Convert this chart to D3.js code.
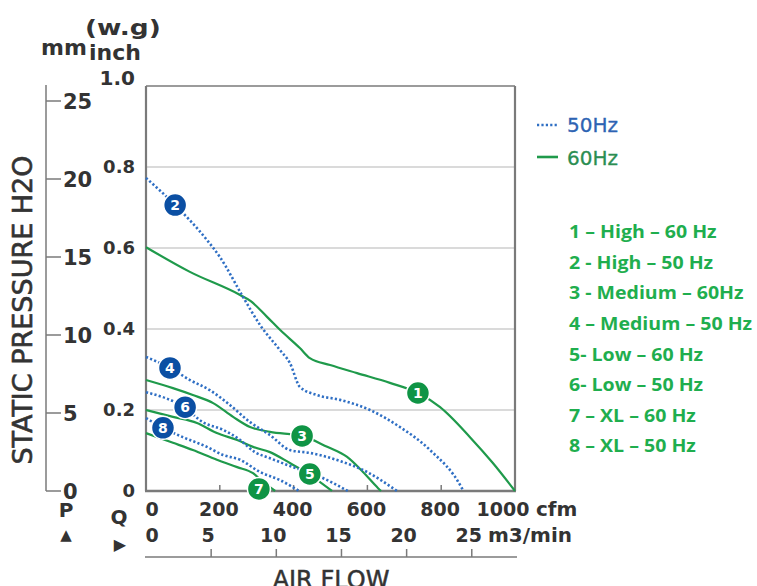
<!DOCTYPE html>
<html>
<head>
<meta charset="utf-8">
<script src="https://cdn.jsdelivr.net/npm/d3@7"></script>
<style>
  body { margin: 0; background: #fff; }
  svg { display: block; }
</style>
</head>
<body>
<svg id="chart"></svg>
<script>
// curves: [cfm, inch w.g]
const high60 = [[0,0.602],[119,0.541],[255,0.484],[282,0.470],[328,0.430],[363,0.398],[417,0.353],[444,0.328],[499,0.311],[572,0.291],[661,0.267],[737,0.242],[797,0.207],[878,0.133],[940,0.069],[1000,0]];
const high50 = [[0,0.773],[79,0.706],[165,0.620],[200,0.578],[263,0.479],[309,0.41],[363,0.348],[390,0.316],[417,0.257],[463,0.237],[526,0.225],[607,0.2],[688,0.158],[770,0.101],[856,0.007],[860,0]];
const med60 = [[0,0.274],[73,0.254],[127,0.237],[182,0.217],[236,0.183],[282,0.158],[336,0.146],[423,0.136],[491,0.109],[545,0.084],[588,0.047],[629,0.007],[637,0]];
const med50 = [[0,0.331],[65,0.304],[119,0.274],[173,0.249],[228,0.212],[282,0.170],[336,0.138],[390,0.101],[444,0.094],[526,0.074],[599,0.047],[669,0.007],[680,0]];
const low60 = [[0,0.2],[73,0.183],[138,0.168],[192,0.143],[247,0.126],[290,0.109],[336,0.096],[390,0.069],[444,0.040],[504,0]];
const low50 = [[0,0.244],[106,0.205],[154,0.170],[209,0.151],[255,0.126],[295,0.096],[336,0.081],[398,0.059],[472,0.035],[547,0]];
const xl60 = [[0,0.143],[73,0.119],[127,0.101],[192,0.077],[247,0.059],[290,0.044],[314,0.025],[350,0]];
const xl50 = [[0,0.180],[46,0.156],[100,0.133],[165,0.109],[209,0.089],[255,0.077],[309,0.047],[363,0.027],[415,0]];

const curves = [high60, high50, med60, med50, low60, low50, xl60, xl50];
const curveHz = [60, 50, 60, 50, 60, 50, 60, 50];

// numbered badges on the curves
const markerNo = [1, 2, 3, 4, 5, 6, 7, 8];
const markerCfm = [737, 79, 423, 65, 444, 106, 306, 46];
const markerInch = [0.242, 0.706, 0.136, 0.304, 0.042, 0.207, 0.005, 0.156];

const cfmTicks = [0, 200, 400, 600, 800, 1000];
const m3Ticks = [0, 5, 10, 15, 20, 25];
const inchTicks = [0, 0.2, 0.4, 0.6, 0.8, 1.0];
const mmTicks = [0, 5, 10, 15, 20, 25];
const listLabels = ["1 – High – 60 Hz", "2 - High – 50 Hz", "3 - Medium – 60Hz", "4 – Medium – 50 Hz",
  "5- Low – 60 Hz", "6- Low – 50 Hz", "7 – XL – 60 Hz", "8 – XL – 50 Hz"];

const W = 757, H = 586;
const BLUE = "#2f6fc4", BLUE_DARK = "#0b4fa3", GREEN = "#1f9a4b", GREEN_DARK = "#0f9445", LIST_GREEN = "#1fae4e";
const AXIS = "#7a7a7a", TEXT = "#333";
const FONT = "DejaVu Sans, sans-serif";

const svg = d3.select("#chart").attr("width", W).attr("height", H);

const x = d3.scaleLinear().domain([0, 1000]).range([146, 515]);
const y = d3.scaleLinear().domain([0, 1]).range([491, 86]);
const mm = d3.scaleLinear().domain([0, 25]).range([491, 101]);
const m3 = d3.scaleLinear().domain([0, 1000 / 35.315]).range([146, 515]);

// grid lines
svg.append("g").selectAll("line")
  .data([0.2, 0.4, 0.6, 0.8])
  .enter().append("line")
  .attr("x1", x(0)).attr("x2", x(1000))
  .attr("y1", d => y(d)).attr("y2", d => y(d))
  .attr("stroke", "#dadada").attr("stroke-width", 2);

// plot frame
svg.append("line").attr("x1", x(0)).attr("x2", x(1000)).attr("y1", y(1)).attr("y2", y(1))
  .attr("stroke", AXIS).attr("stroke-width", 1.5);
svg.append("line").attr("x1", x(0)).attr("x2", x(0)).attr("y1", y(1)).attr("y2", y(0))
  .attr("stroke", AXIS).attr("stroke-width", 2.2);
svg.append("line").attr("x1", x(1000)).attr("x2", x(1000)).attr("y1", y(1)).attr("y2", y(0))
  .attr("stroke", AXIS).attr("stroke-width", 2.2);
svg.append("line").attr("x1", x(0) - 1).attr("x2", x(1000) + 1).attr("y1", y(0)).attr("y2", y(0))
  .attr("stroke", AXIS).attr("stroke-width", 2.5);
svg.append("g").selectAll("line")
  .data([200, 400, 600, 800])
  .enter().append("line")
  .attr("x1", d => x(d)).attr("x2", d => x(d))
  .attr("y1", y(0)).attr("y2", y(0) - 6)
  .attr("stroke", AXIS).attr("stroke-width", 1.5);

// curves
const line = d3.line().x(d => x(d[0])).y(d => y(d[1])).curve(d3.curveMonotoneX);
svg.append("g").selectAll("path")
  .data(curves)
  .enter().append("path")
  .attr("d", line)
  .attr("fill", "none")
  .attr("stroke", (d, i) => curveHz[i] === 50 ? BLUE : GREEN)
  .attr("stroke-width", (d, i) => curveHz[i] === 50 ? 2.6 : 2.2)
  .attr("stroke-dasharray", (d, i) => curveHz[i] === 50 ? "2.2 2.2" : null);

// badges
const badge = svg.append("g").selectAll("g")
  .data(markerNo)
  .enter().append("g")
  .attr("transform", (d, i) => "translate(" + x(markerCfm[i]) + "," + y(markerInch[i]) + ")");
badge.append("circle")
  .attr("r", 11.5)
  .attr("fill", (d, i) => curveHz[i] === 50 ? BLUE_DARK : GREEN_DARK)
  .attr("stroke", "#fff").attr("stroke-width", 1.5);
badge.append("text")
  .attr("text-anchor", "middle").attr("dy", "0.36em")
  .attr("font-family", FONT).attr("font-weight", "bold").attr("font-size", 14)
  .attr("fill", "#fff")
  .text(d => d);

// left mm axis
svg.append("line").attr("x1", 46).attr("x2", 46).attr("y1", 85).attr("y2", mm(0))
  .attr("stroke", AXIS).attr("stroke-width", 1.5);
svg.append("g").selectAll("line")
  .data(mmTicks)
  .enter().append("line")
  .attr("x1", 46).attr("x2", 61)
  .attr("y1", d => mm(d)).attr("y2", d => mm(d))
  .attr("stroke", AXIS).attr("stroke-width", 1.5);
svg.append("g").selectAll("text")
  .data(mmTicks)
  .enter().append("text")
  .attr("x", 63).attr("y", d => mm(d)).attr("dy", "0.36em")
  .attr("font-family", FONT).attr("font-weight", "bold").attr("font-size", 21)
  .attr("fill", TEXT)
  .text(d => d);

// inch labels
svg.append("g").selectAll("text")
  .data(inchTicks)
  .enter().append("text")
  .attr("x", 135).attr("y", d => d === 1 ? y(d) - 8 : y(d)).attr("dy", "0.36em")
  .attr("text-anchor", "end")
  .attr("font-family", FONT).attr("font-weight", "bold").attr("font-size", d => d === 1 ? 20 : 18)
  .attr("fill", TEXT)
  .text(d => d === 0 ? "0" : d.toFixed(1));

// unit header
const head = svg.append("g").attr("font-family", FONT).attr("font-weight", "bold").attr("fill", TEXT).attr("font-size", 22);
head.append("text").attr("transform", "translate(85,35) scale(1.2,1)").text("(w.g)");
head.append("text").attr("x", 41).attr("y", 55).text("mm");
head.append("text").attr("x", 89).attr("y", 60).text("inch");

// y title
svg.append("text")
  .attr("transform", "translate(32,310) rotate(-90)")
  .attr("text-anchor", "middle")
  .attr("font-family", FONT).attr("font-size", 27)
  .attr("fill", TEXT).attr("stroke", TEXT).attr("stroke-width", 0.6)
  .text("STATIC PRESSURE H2O");

// cfm row
svg.append("g").selectAll("text")
  .data(cfmTicks)
  .enter().append("text")
  .attr("x", d => d === 0 ? x(d) + 6 : d === 1000 ? x(d) - 12 : x(d) - 1)
  .attr("y", 516)
  .attr("text-anchor", "middle")
  .attr("font-family", FONT).attr("font-weight", "bold").attr("font-size", 19)
  .attr("fill", TEXT)
  .text(d => d);
svg.append("text").attr("x", 536).attr("y", 516)
  .attr("font-family", FONT).attr("font-weight", "bold").attr("font-size", 20)
  .attr("fill", TEXT).text("cfm");

// m3/min row
svg.append("g").selectAll("text")
  .data(m3Ticks)
  .enter().append("text")
  .attr("x", d => d === 0 ? m3(d) + 6 : m3(d) - 3)
  .attr("y", 542)
  .attr("text-anchor", "middle")
  .attr("font-family", FONT).attr("font-weight", "bold").attr("font-size", 19)
  .attr("fill", TEXT)
  .text(d => d);
svg.append("text").attr("x", 488).attr("y", 542)
  .attr("font-family", FONT).attr("font-weight", "bold").attr("font-size", 20)
  .attr("fill", TEXT).text("m3/min");

// P / Q markers
const pq = svg.append("g").attr("font-family", FONT).attr("font-weight", "bold").attr("fill", TEXT).attr("text-anchor", "middle");
pq.append("text").attr("x", 66).attr("y", 517).attr("font-size", 20).text("P");
pq.append("text").attr("x", 66).attr("y", 540).attr("font-size", 15).text("▲");
pq.append("text").attr("x", 119).attr("y", 524).attr("font-size", 20).text("Q");
pq.append("text").attr("x", 120).attr("y", 550).attr("font-size", 16).text("▶");

// bottom air-flow axis
svg.append("line").attr("x1", 145).attr("x2", 517).attr("y1", 557).attr("y2", 557)
  .attr("stroke", AXIS).attr("stroke-width", 1.5);
svg.append("g").selectAll("line")
  .data(m3Ticks.slice(1))
  .enter().append("line")
  .attr("x1", d => m3(d)).attr("x2", d => m3(d))
  .attr("y1", 557).attr("y2", 549)
  .attr("stroke", AXIS).attr("stroke-width", 1.5);
svg.append("text").attr("x", 331).attr("y", 588)
  .attr("text-anchor", "middle")
  .attr("font-family", FONT).attr("font-size", 24)
  .attr("fill", TEXT).attr("stroke", TEXT).attr("stroke-width", 0.5).text("AIR FLOW");

// Hz legend
const leg = svg.append("g");
leg.append("line").attr("x1", 537).attr("x2", 557).attr("y1", 125).attr("y2", 125)
  .attr("stroke", BLUE).attr("stroke-width", 2.6).attr("stroke-dasharray", "2.2 2.2");
leg.append("line").attr("x1", 537).attr("x2", 558).attr("y1", 157).attr("y2", 157)
  .attr("stroke", GREEN).attr("stroke-width", 2.6);
leg.append("text").attr("x", 567).attr("y", 125).attr("dy", "0.36em")
  .attr("font-family", FONT).attr("font-size", 20).attr("fill", "#2d63b3")
  .attr("stroke", "#2d63b3").attr("stroke-width", 0.3).text("50Hz");
leg.append("text").attr("x", 567).attr("y", 158).attr("dy", "0.36em")
  .attr("font-family", FONT).attr("font-size", 20).attr("fill", "#2b8e52")
  .attr("stroke", "#2b8e52").attr("stroke-width", 0.3).text("60Hz");

// numbered list
svg.append("g").selectAll("text")
  .data(listLabels)
  .enter().append("text")
  .attr("transform", (d, i) => "translate(569," + (232 + i * 30.6) + ") scale(1.15,1)")
  .attr("dy", "0.36em")
  .attr("font-family", "Open Sans, sans-serif").attr("font-weight", "bold").attr("font-size", 17)
  .attr("fill", LIST_GREEN)
  .text(d => d);
</script>
</body>
</html>
